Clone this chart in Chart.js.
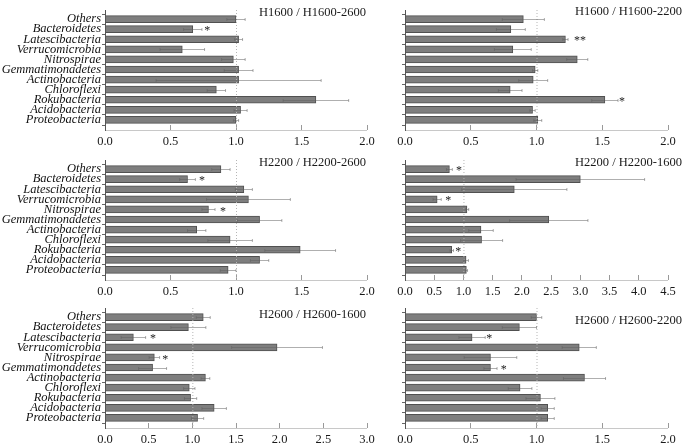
<!DOCTYPE html>
<html>
<head>
<meta charset="utf-8">
<script src="https://cdn.jsdelivr.net/npm/chart.js@4/dist/chart.umd.min.js"></script>
<style>
  html, body { margin: 0; padding: 0; background: #fff; }
  #wrap { position: relative; width: 685px; height: 448px; overflow: hidden; }
  canvas { position: absolute; }
</style>
</head>
<body>
<div id="wrap"></div>
<script>
// taxa, top to bottom
const taxa = ['Others', 'Bacteroidetes', 'Latescibacteria', 'Verrucomicrobia', 'Nitrospirae',
  'Gemmatimonadetes', 'Actinobacteria', 'Chloroflexi', 'Rokubacteria', 'Acidobacteria', 'Proteobacteria'];

// H1600 / H1600-2600
const vals1 = [1.00, 0.67, 1.02, 0.59, 0.98, 1.02, 1.02, 0.85, 1.61, 1.035, 1.00];
const err1  = [0.07, 0.07, 0.03, 0.17, 0.09, 0.11, 0.63, 0.07, 0.25, 0.05, 0.02];
const sig1  = ['', '*', '', '', '', '', '', '', '', '', ''];
const sigAt1 = [null, 0.78, null, null, null, null, null, null, null, null, null];

// H1600 / H1600-2200
const vals2 = [0.90, 0.805, 1.22, 0.82, 1.31, 0.99, 0.975, 0.80, 1.52, 0.97, 1.01];
const err2  = [0.16, 0.11, 0.02, 0.14, 0.08, 0.02, 0.11, 0.09, 0.10, 0.02, 0.03];
const sig2  = ['', '', '**', '', '', '', '', '', '*', '', ''];
const sigAt2 = [null, null, 1.33, null, null, null, null, null, 1.65, null, null];

// H2200 / H2200-2600
const vals3 = [0.885, 0.63, 1.06, 1.095, 0.79, 1.18, 0.70, 0.955, 1.49, 1.18, 0.94];
const err3  = [0.07, 0.06, 0.065, 0.32, 0.05, 0.17, 0.07, 0.17, 0.27, 0.07, 0.06];
const sig3  = ['', '*', '', '', '*', '', '', '', '', '', ''];
const sigAt3 = [null, 0.74, null, null, 0.90, null, null, null, null, null, null];

// H2200 / H2200-1600
const vals4 = [0.76, 3.00, 1.87, 0.55, 1.06, 2.46, 1.30, 1.31, 0.80, 1.045, 1.05];
const err4  = [0.05, 1.10, 0.90, 0.07, 0.03, 0.67, 0.21, 0.36, 0.03, 0.04, 0.02];
const sig4  = ['*', '', '', '*', '', '', '', '', '*', '', ''];
const sigAt4 = [0.925, null, null, 0.74, null, null, null, null, 0.91, null, null];

// H2600 / H2600-1600
const vals5 = [1.125, 0.955, 0.325, 1.97, 0.565, 0.545, 1.15, 0.965, 0.98, 1.25, 1.06];
const err5  = [0.08, 0.20, 0.14, 0.52, 0.06, 0.16, 0.05, 0.065, 0.07, 0.14, 0.07];
const sig5  = ['', '', '*', '', '*', '', '', '', '', '', ''];
const sigAt5 = [null, null, 0.55, null, 0.69, null, null, null, null, null, null];

// H2600 / H2600-2200
const vals6 = [1.00, 0.87, 0.51, 1.325, 0.65, 0.65, 1.365, 0.875, 1.03, 1.085, 1.085];
const err6  = [0.04, 0.13, 0.10, 0.13, 0.20, 0.05, 0.16, 0.09, 0.11, 0.05, 0.05];
const sig6  = ['', '', '*', '', '', '*', '', '', '', '', ''];
const sigAt6 = [null, null, 0.64, null, null, 0.75, null, null, null, null, null];

const SERIF = "'Liberation Serif', 'DejaVu Serif', serif";

const panels = [
  { title: 'H1600 / H1600-2600', vals: vals1, err: err1, sig: sig1, sigAt: sigAt1, max: 2.0, left: true,  top: 0,   titleY: 13 },
  { title: 'H1600 / H1600-2200', vals: vals2, err: err2, sig: sig2, sigAt: sigAt2, max: 2.0, left: false, top: 0,   titleY: 12 },
  { title: 'H2200 / H2200-2600', vals: vals3, err: err3, sig: sig3, sigAt: sigAt3, max: 2.0, left: true,  top: 150, titleY: 13 },
  { title: 'H2200 / H2200-1600', vals: vals4, err: err4, sig: sig4, sigAt: sigAt4, max: 4.5, left: false, top: 150, titleY: 13 },
  { title: 'H2600 / H2600-1600', vals: vals5, err: err5, sig: sig5, sigAt: sigAt5, max: 3.0, left: true,  top: 298, titleY: 17 },
  { title: 'H2600 / H2600-2200', vals: vals6, err: err6, sig: sig6, sigAt: sigAt6, max: 2.0, left: false, top: 298, titleY: 23 }
];

// error bars, stars, reference line, axis lines and panel label
const extras = {
  id: 'extras',
  afterDatasetsDraw(chart, args, opts) {
    const ctx = chart.ctx;
    const xs = chart.scales.x, ys = chart.scales.y;
    const a = chart.chartArea;
    const p = opts.panel;
    ctx.save();

    // dotted line at 1.0
    const x1 = xs.getPixelForValue(1);
    ctx.strokeStyle = '#b5b5b5';
    ctx.lineWidth = 1;
    ctx.setLineDash([1, 2]);
    ctx.beginPath();
    ctx.moveTo(x1 + 0.5, a.top - 4);
    ctx.lineTo(x1 + 0.5, a.bottom + 5);
    ctx.stroke();
    ctx.setLineDash([]);

    // error bars
    ctx.strokeStyle = 'rgba(95,95,95,0.5)';
    p.vals.forEach((v, i) => {
      const y = Math.round(ys.getPixelForValue(i)) + 0.5;
      const lo = xs.getPixelForValue(v - p.err[i]);
      const hi = xs.getPixelForValue(v + p.err[i]);
      ctx.beginPath();
      ctx.moveTo(lo, y); ctx.lineTo(hi, y);
      ctx.moveTo(lo, y - 1.5); ctx.lineTo(lo, y + 1.5);
      ctx.moveTo(hi, y - 1.5); ctx.lineTo(hi, y + 1.5);
      ctx.stroke();
    });

    // significance marks
    ctx.fillStyle = '#222';
    ctx.font = '12px ' + SERIF;
    ctx.textAlign = 'center';
    ctx.textBaseline = 'middle';
    p.sig.forEach((s, i) => {
      if (!s) return;
      ctx.fillText(s, xs.getPixelForValue(p.sigAt[i]), ys.getPixelForValue(i) + 2);
    });

    // axis lines
    ctx.strokeStyle = '#c8c8c8';
    ctx.beginPath();
    ctx.moveTo(a.left, a.bottom + 5.5);
    ctx.lineTo(a.right, a.bottom + 5.5);
    ctx.stroke();
    ctx.strokeStyle = '#555';
    ctx.beginPath();
    ctx.moveTo(a.left + 0.5, a.top - 4);
    ctx.lineTo(a.left + 0.5, a.bottom + 6);
    ctx.stroke();

    // panel label
    ctx.fillStyle = '#1a1a1a';
    ctx.font = '12.5px ' + SERIF;
    ctx.textAlign = 'right';
    ctx.textBaseline = 'middle';
    ctx.fillText(p.title, p.left ? a.right - 1 : a.right + 14, p.titleY);
    ctx.restore();
  }
};

const wrap = document.getElementById('wrap');
panels.forEach(p => {
  const cv = document.createElement('canvas');
  const w = p.left ? 385 : 345;
  cv.width = w; cv.height = 150;
  cv.style.width = w + 'px'; cv.style.height = '150px';
  cv.style.left = (p.left ? 0 : 340) + 'px';
  cv.style.top = p.top + 'px';
  wrap.appendChild(cv);

  new Chart(cv.getContext('2d'), {
    type: 'bar',
    data: {
      labels: taxa,
      datasets: [{
        data: p.vals,
        backgroundColor: '#7e7e7e',
        borderColor: '#505050',
        borderWidth: 1,
        barThickness: 7
      }]
    },
    options: {
      indexAxis: 'y',
      responsive: false,
      animation: false,
      devicePixelRatio: 1,
      layout: { padding: { top: 14, right: p.left ? 18 : 17, left: 0, bottom: 0 } },
      plugins: {
        legend: { display: false },
        tooltip: { enabled: false },
        extras: { panel: p }
      },
      scales: {
        x: {
          min: 0, max: p.max,
          border: { display: false },
          grid: { drawOnChartArea: false, tickLength: 5, color: '#999' },
          ticks: {
            stepSize: 0.5, padding: 4, color: '#1a1a1a',
            font: { family: SERIF, size: 12.5 },
            callback: v => Number(v).toFixed(1)
          },
          afterFit: s => { s.height = 25; }
        },
        y: {
          offset: true,
          border: { display: false },
          grid: { offset: true, drawOnChartArea: false, tickLength: 3, color: '#666' },
          ticks: {
            display: p.left, padding: 1, color: '#111', autoSkip: false,
            font: { family: SERIF, size: 12.5, style: 'italic' }
          },
          afterFit: s => { s.width = p.left ? 105 : 65; }
        }
      }
    },
    plugins: [extras]
  });
});
</script>
</body>
</html>
